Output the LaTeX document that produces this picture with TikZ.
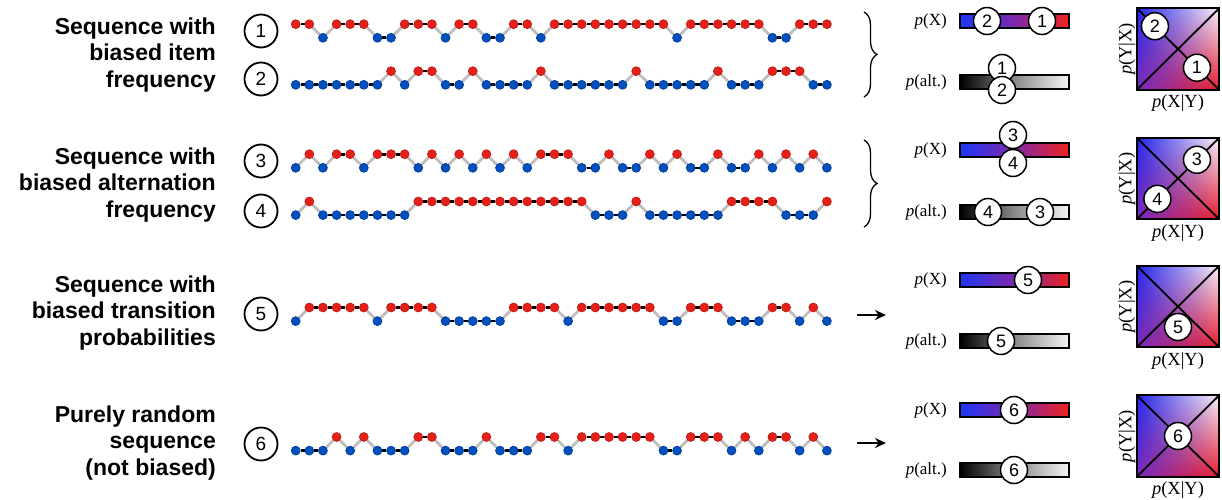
\documentclass[tikz,border=0pt]{standalone}
\usepackage{fontspec}
\setmainfont{Liberation Serif}
\setsansfont{Liberation Sans}
\usetikzlibrary{calc,decorations.pathreplacing,arrows.meta}

\definecolor{dred}{RGB}{228,32,24}
\definecolor{dredb}{RGB}{185,25,20}
\definecolor{dblue}{RGB}{0,80,190}
\definecolor{dblueb}{RGB}{0,55,150}
\definecolor{linkgray}{RGB}{190,190,190}
\definecolor{xblue}{RGB}{30,55,245}
\definecolor{xpurple}{RGB}{125,40,172}
\definecolor{xred}{RGB}{240,35,30}
\definecolor{agray}{RGB}{138,138,138}
\definecolor{awhite}{RGB}{245,245,245}

\pgfdeclarefunctionalshading{sqshade}{\pgfpoint{0bp}{0bp}}{\pgfpoint{100bp}{100bp}}{}{
25 sub 50 div dup 0 lt {pop 0} if dup 1 gt {pop 1} if
exch 25 sub 50 div dup 0 lt {pop 0} if dup 1 gt {pop 1} if exch
2 copy mul
2 index 0.44 mul 2 index -0.35 mul add 1 index 0.42 mul add 0.48 add
3 index -0.05 mul 3 index -0.02 mul add 2 index 0.85 mul add 0.17 add
4 index -0.58 mul 4 index 0.19 mul add 3 index 0.63 mul add 0.74 add
6 3 roll pop pop pop
}

\pgfdeclarelayer{background}
\pgfsetlayers{background,main}

\tikzset{
  dotR/.style={circle,inner sep=0pt,minimum size=9pt,fill=dred,draw=dredb,line width=0.6pt,yshift=6.8pt},
  dotB/.style={circle,inner sep=0pt,minimum size=9pt,fill=dblue,draw=dblueb,line width=0.6pt,yshift=-6.8pt},
  samelink/.style={line width=2.6pt,black},
  difflink/.style={line width=2.8pt,linkgray},
  numc/.style={circle,draw,line width=1.8pt,minimum size=33pt,inner sep=0pt,font=\sffamily\fontsize{19}{19}\selectfont},
  bmark/.style={circle,draw,fill=white,line width=1.5pt,minimum size=27pt,inner sep=0pt,font=\sffamily\fontsize{18}{18}\selectfont},
  barX/.style={rectangle,minimum width=109pt,minimum height=14pt,inner sep=0pt,draw,line width=1.5pt,left color=xblue,right color=xred,middle color=xpurple},
  barA/.style={rectangle,minimum width=109pt,minimum height=14pt,inner sep=0pt,draw,line width=1.5pt,left color=black,right color=awhite,middle color=agray},
  sqbox/.style={rectangle,minimum width=82pt,minimum height=81pt,inner sep=0pt,shade,shading=sqshade},
  plab/.style={font=\fontsize{17}{17}\selectfont,anchor=east,inner sep=0pt},
  axlab/.style={font=\fontsize{18.5}{18.5}\selectfont,inner sep=0pt},
  lefttext/.style={font=\sffamily\bfseries\fontsize{23}{26.5}\selectfont,align=right,anchor=east,inner sep=0pt},
  diag/.style={line width=1.8pt},
  arr/.style={-{Stealth[length=11pt,width=10pt]},line width=2.2pt},
  bracedec/.style={decorate,decoration={brace,amplitude=13pt},line width=1.3pt}
}

\newcommand\seqrow[3]{%
  \foreach \c [count=\i from 0] in {#3} {
    \if R\c
      \node[dotR] (#1-\i) at ({295.7+13.62*\i},#2) {};
    \else
      \node[dotB] (#1-\i) at ({295.7+13.62*\i},#2) {};
    \fi
  }
  \begin{pgfonlayer}{background}
  \foreach \c [count=\i from 0, remember=\c as \lastc (initially N)] in {#3} {
    \ifnum\i>0
      \edef\tmpa{\c}\edef\tmpb{\lastc}%
      \pgfmathtruncatemacro\j{\i-1}%
      \ifx\tmpa\tmpb
        \draw[samelink] (#1-\j) -- (#1-\i);
      \else
        \draw[difflink] (#1-\j) -- (#1-\i);
      \fi
    \fi
  }
  \end{pgfonlayer}
}

\begin{document}
\begin{tikzpicture}[x=1pt,y=-1pt]
\useasboundingbox (0,0) rectangle (1222,500);

% left texts
\node[lefttext] (t1) at (216,55) {Sequence with\\biased item\\frequency};
\node[lefttext] (t2) at (216,185) {Sequence with\\biased alternation\\frequency};
\node[lefttext] (t3) at (216,313) {Sequence with\\biased transition\\probabilities};
\node[lefttext] (t4) at (216,443) {Purely random\\sequence\\(not biased)};

% circled numbers
\node[numc] (n1) at (261,31) {1};
\node[numc] (n2) at (261,79) {2};
\node[numc] (n3) at (261,161) {3};
\node[numc] (n4) at (261,211) {4};
\node[numc] (n5) at (261,314) {5};
\node[numc] (n6) at (261,444) {6};

% sequences
\seqrow{s1}{31}{R,R,B,R,R,R,B,B,R,R,R,B,R,R,B,B,R,R,B,R,R,R,R,R,R,R,R,R,B,R,R,R,R,R,R,B,B,R,R,R}
\seqrow{s2}{78}{B,B,B,B,B,B,B,R,B,R,R,B,B,R,B,B,B,B,R,B,B,B,B,B,B,R,B,B,B,B,B,R,B,B,B,R,R,R,B,B}
\seqrow{s3}{161}{B,R,B,R,R,B,R,R,R,B,R,B,R,B,R,B,R,B,R,R,R,B,B,R,B,B,R,B,R,B,B,R,B,B,R,B,R,B,R,B}
\seqrow{s4}{208.3}{B,R,B,B,B,B,B,B,B,R,R,R,R,R,R,R,R,R,R,R,R,R,B,B,B,R,B,B,B,B,B,B,R,R,R,R,B,B,B,R}
\seqrow{s5}{314.3}{B,R,R,R,R,R,B,R,R,R,R,B,B,B,B,B,R,R,R,R,B,R,R,R,R,R,R,B,B,R,R,R,B,B,B,R,R,B,R,B}
\seqrow{s6}{443.8}{B,B,B,R,B,R,B,B,B,R,R,B,B,B,R,B,B,B,R,R,B,R,R,R,R,R,R,B,B,R,R,R,B,R,B,R,R,B,R,B}

% braces and arrows
\draw[bracedec] (864,12) -- (864,97);
\draw[bracedec] (864,140) -- (864,227);
\coordinate (a5s) at (857,315);
\coordinate (a5e) at (886,315);
\coordinate (a6s) at (857,443);
\coordinate (a6e) at (886,443);
\draw[arr] (a5s) -- (a5e);
\draw[arr] (a6s) -- (a6e);

% bars and labels
\foreach \r/\yx/\ya in {1/21/82,2/150/212,3/280/341,4/410/470}{
  \node[plab] (lx\r) at (947,\yx) {\textit{p}(X)};
  \node[plab] (la\r) at (947,\ya) {\textit{p}(alt.)};
  \node[barX] (bx\r) at (1014.5,\yx) {};
  \node[barA] (ba\r) at (1014.5,\ya) {};
}

% squares
\foreach \r/\yc in {1/49,2/178.5,3/306.5,4/436}{
  \node[sqbox] (sq\r) at (1178,\yc) {};
  \draw[diag] (sq\r.north west) -- (sq\r.south east);
  \draw[diag] (sq\r.south west) -- (sq\r.north east);
  \draw[line width=2pt] (sq\r.north west) rectangle (sq\r.south east);
  \node[axlab,rotate=90] (ly\r) at (1127,\yc) {\textit{p}(Y|X)};
  \node[axlab,anchor=north] (lxy\r) at ($(sq\r.south)+(0,5)$) {\textit{p}(X|Y)};
}

% markers row 1
\node[bmark] (m1x2) at (987,21) {2};
\node[bmark] (m1x1) at (1042,21) {1};
\node[bmark] (m1a1) at (1002,68) {1};
\node[bmark] (m1a2) at (1002,90) {2};
\node[bmark] (m1s2) at ($(sq1.north west)!0.22!(sq1.south east)$) {2};
\node[bmark] (m1s1) at ($(sq1.north west)!0.73!(sq1.south east)$) {1};
% row 2
\node[bmark] (m2x3) at (1013,135) {3};
\node[bmark] (m2x4) at (1013,163) {4};
\node[bmark] (m2a4) at (988,212) {4};
\node[bmark] (m2a3) at (1040,212) {3};
\node[bmark] (m2s3) at ($(sq2.south west)!0.73!(sq2.north east)$) {3};
\node[bmark] (m2s4) at ($(sq2.south west)!0.25!(sq2.north east)$) {4};
% row 3
\node[bmark] (m3x5) at (1028,280) {5};
\node[bmark] (m3a5) at (1001,341) {5};
\node[bmark] (m3s5) at ($(sq3.center)+(0,20.5)$) {5};
% row 4
\node[bmark] (m4x6) at (1014,410) {6};
\node[bmark] (m4a6) at (1014,470) {6};
\node[bmark] (m4s6) at (sq4.center) {6};
\end{tikzpicture}
\end{document}
